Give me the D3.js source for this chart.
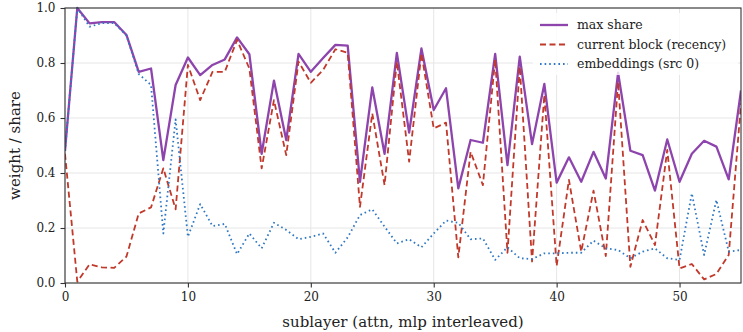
<!DOCTYPE html>
<html><head><meta charset="utf-8">
<script src="https://cdn.jsdelivr.net/npm/d3@7/dist/d3.min.js"></script>
<style>body{margin:0;background:#fff;} svg{display:block;} svg text{font-family:'DejaVu Serif';}</style>
</head><body>
<svg id="c" width="743" height="332"></svg>
<script>
const maxShare = [0.48,1.0,0.944,0.949,0.949,0.902,0.768,0.78,0.447,0.72,0.82,0.756,0.793,0.813,0.893,0.832,
  0.47,0.736,0.52,0.833,0.768,0.818,0.866,0.863,0.368,0.711,0.47,0.837,0.547,0.853,
  0.629,0.708,0.344,0.52,0.51,0.833,0.429,0.823,0.505,0.724,0.365,0.457,0.368,0.477,0.38,
  0.765,0.481,0.465,0.336,0.522,0.368,0.47,0.517,0.496,0.377,0.70];
const currentBlock = [0.47,0.005,0.068,0.057,0.055,0.096,0.253,0.275,0.417,0.268,0.793,0.665,0.768,0.768,0.884,0.78,
  0.417,0.665,0.465,0.805,0.728,0.775,0.85,0.837,0.277,0.617,0.356,0.805,0.441,0.835,
  0.562,0.583,0.093,0.477,0.356,0.813,0.11,0.787,0.078,0.684,0.062,0.375,0.114,0.336,0.098,
  0.732,0.059,0.229,0.138,0.484,0.053,0.069,0.013,0.033,0.102,0.653];
const embeddings = [0.48,1.0,0.932,0.945,0.945,0.90,0.76,0.72,0.18,0.595,0.168,0.287,0.207,0.215,0.105,0.18,
  0.126,0.219,0.193,0.159,0.168,0.18,0.11,0.166,0.247,0.268,0.205,0.144,0.159,0.13,
  0.18,0.227,0.219,0.159,0.162,0.084,0.13,0.09,0.087,0.108,0.108,0.11,0.11,0.154,0.126,
  0.12,0.09,0.114,0.126,0.09,0.084,0.326,0.102,0.302,0.114,0.12];
const seriesNames = ["max share","current block (recency)","embeddings (src 0)"];
const xTicks = [0,10,20,30,40,50];
const yTicks = [0.0,0.2,0.4,0.6,0.8,1.0];
const xLabel = "sublayer (attn, mlp interleaved)";
const yLabel = "weight / share";

const svg = d3.select("#c");
const m = {l:65, r:2, t:8, b:49};
const W = 743, H = 332;
const x = d3.scaleLinear().domain([0,55]).range([m.l, W-m.r]);
const y = d3.scaleLinear().domain([0,1]).range([H-m.b, m.t]);
const font = "'DejaVu Serif'";

svg.append("g").selectAll("line").data(xTicks).join("line")
  .attr("x1",d=>x(d)).attr("x2",d=>x(d)).attr("y1",y(0)).attr("y2",y(1))
  .attr("stroke","#e6e6e6").attr("stroke-width",1);
svg.append("g").selectAll("line").data(yTicks).join("line")
  .attr("x1",x(0)).attr("x2",x(55)).attr("y1",d=>y(d)).attr("y2",d=>y(d))
  .attr("stroke","#e6e6e6").attr("stroke-width",1);

const series = [
  {vals:maxShare, color:"#8e44ad", w:2.3, dash:null},
  {vals:currentBlock, color:"#c0392b", w:1.8, dash:"6,3.5"},
  {vals:embeddings, color:"#2f78c4", w:1.8, dash:"1.6,3"}
];
const line = d3.line().x((d,i)=>x(i)).y(d=>y(d));
svg.append("clipPath").attr("id","cp").append("rect")
  .attr("x",x(0)).attr("y",y(1)-3).attr("width",x(55)-x(0)).attr("height",y(0)-y(1)+3);
series.forEach(s=>{
  svg.append("path").datum(s.vals).attr("d",line).attr("fill","none")
    .attr("stroke",s.color).attr("stroke-width",s.w)
    .attr("stroke-dasharray",s.dash).attr("stroke-linejoin","round")
    .attr("clip-path","url(#cp)");
});

svg.append("rect").attr("x",x(0)).attr("y",y(1)).attr("width",x(55)-x(0)).attr("height",y(0)-y(1))
  .attr("fill","none").attr("stroke","#333").attr("stroke-width",1.1);

const xa = svg.append("g").attr("transform",`translate(0,${y(0)})`)
  .call(d3.axisBottom(x).tickValues(xTicks).tickSize(4.5).tickPadding(5).tickFormat(d3.format("d")));
const ya = svg.append("g").attr("transform",`translate(${x(0)},0)`)
  .call(d3.axisLeft(y).tickValues(yTicks).tickSize(4.5).tickPadding(5).tickFormat(d3.format(".1f")));
[xa,ya].forEach(a=>{
  a.attr("font-family",null).attr("font-size",null);
  a.select(".domain").remove();
  a.selectAll("line").attr("stroke","#333").attr("stroke-width",1.1);
  a.selectAll("text").style("font-family",font).style("font-size","12px").attr("fill","#222");
});

svg.append("text").attr("x",(x(0)+x(55))/2).attr("y",327).attr("text-anchor","middle")
  .style("font-family",font).style("font-size","15px").attr("fill","#222").text(xLabel);
svg.append("text").attr("transform",`translate(20,${(y(0)+y(1))/2}) rotate(-90)`).attr("text-anchor","middle")
  .style("font-family",font).style("font-size","15px").attr("fill","#222").text(yLabel);

const lg = svg.append("g");
lg.append("rect").attr("x",533).attr("y",13).attr("width",205).attr("height",62)
  .attr("fill","#fff").attr("fill-opacity",0.8);
series.forEach((s,i)=>{
  const yy = 25 + i*19.5;
  lg.append("line").attr("x1",540).attr("x2",568).attr("y1",yy).attr("y2",yy)
    .attr("stroke",s.color).attr("stroke-width",s.w).attr("stroke-dasharray",s.dash);
  lg.append("text").attr("x",577).attr("y",yy).attr("dy","0.35em")
    .style("font-family",font).style("font-size","12.5px").attr("fill","#222").text(seriesNames[i]);
});
</script>
</body></html>
